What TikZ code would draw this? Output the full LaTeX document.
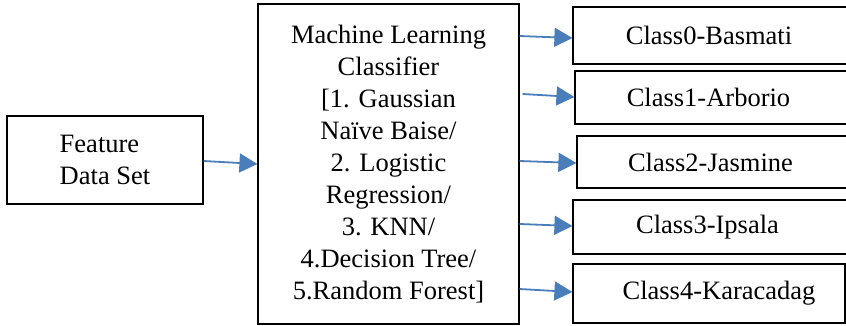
\documentclass[tikz,border=0pt]{standalone}
\usepackage{fontspec}
\setmainfont{Liberation Serif}
\usetikzlibrary{arrows.meta}
\definecolor{arrowblue}{HTML}{4A7EBB}
\tikzset{
  box/.style={draw=black, line width=1.2pt, rectangle, inner sep=0pt,
    font=\fontsize{26.5}{32}\selectfont},
  arr/.style={draw=arrowblue, line width=1.8pt,
    -{Triangle[length=18pt,width=19pt]}, fill=arrowblue},
}
\begin{document}
\begin{tikzpicture}[x=1pt,y=-1pt]
  \useasboundingbox (0,0) rectangle (846,326);
  \clip (0,0) rectangle (846,326);
  % input and classifier
  \node[box, minimum width=196pt, minimum height=88pt, align=left] (feat) at (105,160) {Feature\\Data Set};
  \node[box, minimum width=261pt, minimum height=320pt, align=center] (ml) at (388.5,164)
    {Machine Learning\\Classifier\\{[}1. Gaussian\\Naïve Baise/\\2. Logistic\\Regression/\\3. KNN/\\4.Decision Tree/\\5.Random Forest]};
  % output classes
  \node[box, minimum width=277pt, minimum height=57pt] (c0) at (711.5,35.5) {Class0-Basmati\hspace*{5pt}};
  \node[box, minimum width=275pt, minimum height=53pt] (c1) at (712.5,97.5) {Class1-Arborio\hspace*{8pt}};
  \node[box, minimum width=273pt, minimum height=52pt] (c2) at (713.5,162) {Class2-Jasmine\hspace*{6pt}};
  \node[box, minimum width=277pt, minimum height=54pt] (c3) at (711.5,227) {Class3-Ipsala\hspace*{8pt}};
  \node[box, minimum width=272pt, minimum height=59pt] (c4) at (709,293.5) {\hspace*{20pt}Class4-Karacadag};
  % connectors
  \draw[arr] ([yshift=-1pt]feat.east) -- (ml.west);
  \draw[arr] ([yshift=128pt]ml.east) -- ([yshift=-2.5pt]c0.west);
  \draw[arr] ([xshift=3pt,yshift=70pt]ml.east) -- ([yshift=0.5pt]c1.west);
  \draw[arr] ([yshift=3pt]ml.east) -- ([yshift=-1pt]c2.west);
  \draw[arr] ([yshift=-60pt]ml.east) -- ([yshift=1pt]c3.west);
  \draw[arr] ([yshift=-125pt]ml.east) -- ([yshift=1.5pt]c4.west);
\end{tikzpicture}
\end{document}
